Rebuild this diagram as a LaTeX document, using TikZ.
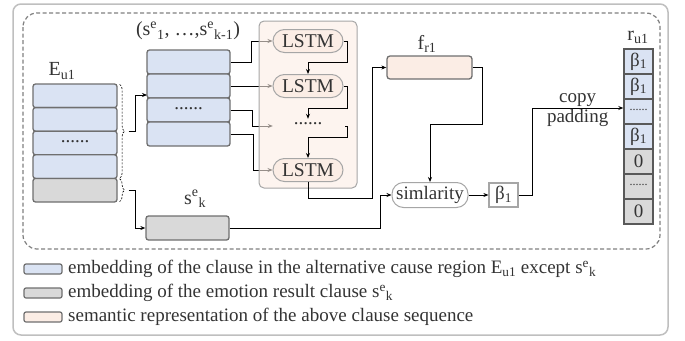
\documentclass[tikz,border=0pt]{standalone}
\usepackage{fontspec}
\setmainfont{Liberation Serif}
\usetikzlibrary{arrows.meta,decorations.pathreplacing,calc}
\definecolor{cblue}{HTML}{DAE3F3}
\definecolor{cgray}{HTML}{D9D9D9}
\definecolor{cpeach}{HTML}{FBEDE5}
\definecolor{cborder}{HTML}{6F6F6F}
\definecolor{cpill}{HTML}{A6A6A6}
\definecolor{cdark}{HTML}{595959}
\definecolor{ctext}{HTML}{333333}
\definecolor{couter}{HTML}{BFBFBF}
\definecolor{cdash}{HTML}{7F7F7F}
\begin{document}
\begin{tikzpicture}[x=1pt,y=-1pt,
  every node/.style={text=ctext},
  lbl/.style={inner sep=0pt, font=\fontsize{20}{22}\selectfont},
  cell/.style={draw=cborder, line width=1.3pt, rounded corners=2.5pt, minimum width=84pt, minimum height=23.6pt, inner sep=0pt, font=\fontsize{19}{22}\selectfont},
  bluecell/.style={cell, fill=cblue},
  graycell/.style={cell, fill=cgray},
  lstm/.style={draw=cpill, line width=1pt, fill=cpeach, rounded corners=11.5pt, minimum width=70pt, minimum height=23pt, inner sep=0pt, font=\fontsize{19.5}{22}\selectfont},
  conn/.style={draw=black, line width=0.9pt, -{Stealth[length=5pt,width=4pt]}},
  plain/.style={draw=black, line width=0.9pt},
  rcell/.style={draw=cdark, line width=1.4pt, minimum width=29pt, minimum height=25pt, inner sep=0pt, font=\fontsize{19}{22}\selectfont},
  brc/.style={draw=black, line width=0.6pt, dashed, dash pattern=on 2pt off 1.5pt, decorate, decoration={brace, amplitude=5pt}},
  legbox/.style={draw=cborder, line width=1.2pt, rounded corners=2pt, minimum width=38pt, minimum height=10pt, inner sep=0pt},
  legtxt/.style={inner sep=0pt, anchor=west, font=\fontsize{19}{22}\selectfont}
]
\useasboundingbox (0,0) rectangle (685,340);
% frames
\draw[couter, line width=1.5pt, rounded corners=8pt] (13,4) rectangle (668,335);
\draw[cdash, line width=1.2pt, dashed, dash pattern=on 4pt off 2.5pt, rounded corners=14pt] (23,13) rectangle (660,249);

% E_u1 stack
\node[lbl] (Elbl) at (62,71) {E\textsubscript{u1}};
\node[bluecell] (e1) at (75,95.8) {};
\node[bluecell] (e2) at (75,119.4) {};
\node[bluecell] (e3) at (75,143) {\raisebox{3pt}{......}};
\node[bluecell] (e4) at (75,166.6) {};
\node[graycell] (e5) at (75,190.2) {};

% second stack
\node[lbl] (S2lbl) at (188,31) {(s\textsuperscript{e}\textsubscript{1}, …,s\textsuperscript{e}\textsubscript{k-1})};
\node[bluecell, minimum width=83pt, minimum height=24pt] (s1) at (188.5,62) {};
\node[bluecell, minimum width=83pt, minimum height=24pt] (s2) at (188.5,86) {};
\node[bluecell, minimum width=83pt, minimum height=24pt] (s3) at (188.5,110) {\raisebox{3pt}{......}};
\node[bluecell, minimum width=83pt, minimum height=24pt] (s4) at (188.5,134) {};
\coordinate (s2in) at (147,95);

% s^e_k
\node[lbl] (sklbl) at (195,199) {s\textsuperscript{e}\textsubscript{k}};
\node[graycell, minimum width=83pt, minimum height=24pt] (sk) at (187.5,228) {};

% braces
\draw[brc] ($(e1.north east)+(2,1)$) -- ($(e4.south east)+(2,-1)$);
\draw[brc] ($(e5.north east)+(2,1)$) -- ($(e5.south east)+(2,-1)$);
\coordinate (b1) at ($($(e1.north east)!0.5!(e4.south east)$)+(11,0)$);
\coordinate (b2) at ($(e5.east)+(11,0)$);
\draw[conn] (b1) -- ++(7,0) |- (s2in);
\draw[conn] (b2) -- ++(7,0) |- (sk.west);

% LSTM anchors (incoming arrows drawn under the translucent region)
\node[lstm, draw=none, fill=none, text opacity=0] (L1) at (308,41) {LSTM};
\node[lstm, draw=none, fill=none, text opacity=0] (L2) at (308,86) {LSTM};
\node[inner sep=0pt, minimum width=70pt, minimum height=14pt] (dots) at (308,126) {};
\node[lstm, draw=none, fill=none, text opacity=0] (L3) at (308,170) {LSTM};

\draw[conn] (s1.east) -- ++(21,0) |- (L1.west);
\draw[conn] (s2.east) -- (L2.west);
\draw[conn] (s3.east) -- ++(22,0) |- (dots.west);
\draw[conn] (s4.east) -- ++(23,0) |- (L3.west);

% LSTM region
\draw[cpill, line width=1pt, fill=cpeach, fill opacity=0.6, rounded corners=5pt] (259,21) rectangle (357,188);
\node[lstm] (L1v) at (L1) {LSTM};
\node[lstm] (L2v) at (L2) {LSTM};
\node[lstm] (L3v) at (L3) {LSTM};
\node[inner sep=0pt, font=\fontsize{19}{22}\selectfont] (dotsv) at (308,124) {......};

\draw[conn] (L1v.east) -- ++(4,0) -- ++(0,21) -| (L2v.north);
\draw[conn] (L2v.east) -- ++(4,0) -- ++(0,22) -| (dots.north);
\draw[conn] ($(dots.east)+(2,0)$) -- ++(2,0) -- ++(0,11) -| (L3v.north);

% f_r1
\node[lbl] (flbl) at (427,44) {f\textsubscript{r1}};
\node[draw=cborder, line width=1.3pt, fill=cpeach, rounded corners=3pt, minimum width=85pt, minimum height=23pt, inner sep=0pt] (f) at (429.5,67.5) {};
\coordinate (fin) at (372,67.5);
\draw[plain] (L3v.south) -- ++(0,16) -| (fin);
\draw[conn] (fin) -- (f.west);

% similarity
\node[lstm, fill=white, minimum width=76pt, minimum height=25pt, font=\fontsize{19}{22}\selectfont] (sim) at (430,195) {simlarity};
\draw[conn] (f.east) -- ++(10,0) -- ++(0,56.5) -| (sim.north);
\coordinate (simin) at (380,195);
\draw[plain] (sk.east) -| (simin);
\draw[conn] (simin) -- (sim.west);

% beta
\node[draw=cpill, line width=1.2pt, fill=white, minimum width=29pt, minimum height=24pt, inner sep=0pt, font=\fontsize{19}{22}\selectfont] (beta) at (503.5,195) {β\textsubscript{1}};
\draw[conn] (sim.east) -- (beta.west);

% r column
\node[lbl] (rlbl) at (638,37) {r\textsubscript{u1}};
\node[rcell, fill=cblue] (r1) at (638.5,61.5) {β\textsubscript{1}};
\node[rcell, fill=cblue] (r2) at (638.5,86.5) {β\textsubscript{1}};
\node[rcell, fill=cblue, font=\fontsize{12}{14}\selectfont] (r3) at (638.5,111.5) {\raisebox{3pt}{......}};
\node[rcell, fill=cblue] (r4) at (638.5,136.5) {β\textsubscript{1}};
\node[rcell, fill=cgray] (r5) at (638.5,161.5) {0};
\node[rcell, fill=cgray, font=\fontsize{12}{14}\selectfont] (r6) at (638.5,186.5) {\raisebox{3pt}{......}};
\node[rcell, fill=cgray] (r7) at (638.5,211.5) {0};

\coordinate (cp) at (532,108);
\draw[plain] (beta.east) -| (cp);
\draw[conn] (cp) -- (r3.west |- cp)
  node[midway, above=0pt, inner sep=1pt, font=\fontsize{19}{22}\selectfont] {copy}
  node[midway, below=0pt, inner sep=1pt, font=\fontsize{19}{22}\selectfont] {padding};

% legend
\node[legbox, fill=cblue] (lg1) at (43,269) {};
\node[legtxt] (lt1) at (68,269) {embedding of the clause in the alternative cause region E\textsubscript{u1} except s\textsuperscript{e}\textsubscript{k}};
\node[legbox, fill=cgray] (lg2) at (43,293) {};
\node[legtxt] (lt2) at (68,293) {embedding of the emotion result clause s\textsuperscript{e}\textsubscript{k}};
\node[legbox, fill=cpeach] (lg3) at (43,317) {};
\node[legtxt] (lt3) at (68,317) {semantic representation of the above clause sequence};
\end{tikzpicture}
\end{document}
